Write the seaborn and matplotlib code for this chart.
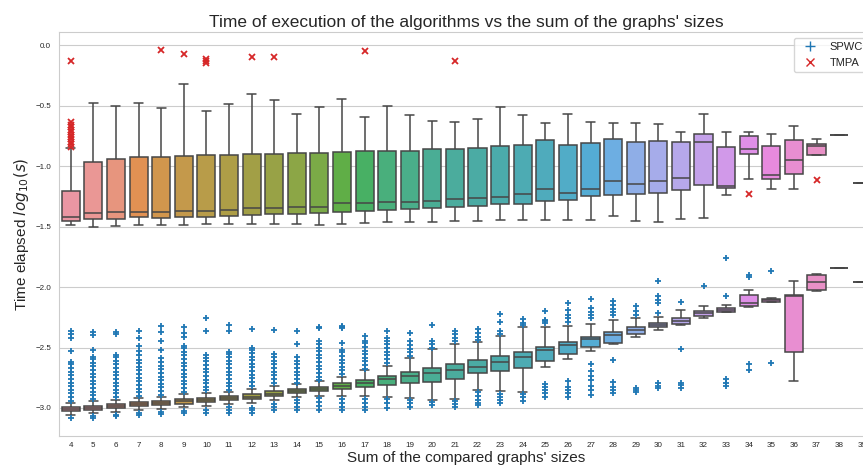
import numpy as np
import pandas as pd
import matplotlib
matplotlib.use("Agg")
import matplotlib.pyplot as plt
from matplotlib.lines import Line2D
import seaborn as sns

# x categories: sum of the compared graphs' sizes
sizes = [str(s) for s in range(4, 40)]

# SPWC box statistics (log10 seconds), sizes 4..39
spwc_lo = [-3.055, -3.045, -3.03, -3.015, -3.005, -2.99, -2.98, -2.965, -2.955, -2.93,
           -2.91, -2.90, -2.90, -2.90, -2.905, -2.915, -2.934, -2.928, -2.848, -2.857,
           -2.865, -2.658, -2.592, -2.529, -2.47, -2.413, -2.355, -2.314, -2.259, -2.207,
           -2.163, -2.121, -2.777, -2.030, -1.843, -1.961]
spwc_q1 = [-3.025, -3.014, -3.003, -2.986, -2.975, -2.964, -2.953, -2.937, -2.928, -2.901,
           -2.879, -2.862, -2.845, -2.829, -2.810, -2.791, -2.782, -2.760, -2.708, -2.691,
           -2.672, -2.612, -2.556, -2.498, -2.465, -2.388, -2.333, -2.309, -2.240, -2.207,
           -2.154, -2.121, -2.537, -2.022, -1.843, -1.961]
spwc_med = [-3.008, -2.997, -2.983, -2.970, -2.959, -2.945, -2.931, -2.920, -2.906, -2.881,
            -2.862, -2.845, -2.818, -2.796, -2.757, -2.735, -2.713, -2.686, -2.661, -2.622,
            -2.576, -2.520, -2.479, -2.432, -2.396, -2.355, -2.314, -2.278, -2.218, -2.188,
            -2.135, -2.110, -2.075, -1.961, -1.843, -1.961]
spwc_q3 = [-2.993, -2.981, -2.967, -2.953, -2.942, -2.925, -2.914, -2.903, -2.884, -2.859,
           -2.845, -2.827, -2.796, -2.769, -2.738, -2.705, -2.672, -2.639, -2.603, -2.570,
           -2.534, -2.493, -2.452, -2.410, -2.374, -2.328, -2.294, -2.253, -2.201, -2.171,
           -2.069, -2.102, -2.066, -1.904, -1.843, -1.961]
spwc_hi = [-2.955, -2.94, -2.93, -2.915, -2.905, -2.885, -2.875, -2.865, -2.84, -2.82,
           -2.80, -2.78, -2.74, -2.685, -2.655, -2.585, -2.51, -2.474, -2.457, -2.408,
           -2.333, -2.333, -2.322, -2.306, -2.273, -2.259, -2.251, -2.19, -2.157, -2.149,
           -2.025, -2.088, -1.95, -1.893, -1.843, -1.961]
spwc_fliers = [
    [-3.08, -2.94, -2.91, -2.88, -2.85, -2.82, -2.79, -2.76, -2.73, -2.70, -2.67, -2.64, -2.62, -2.53, -2.42, -2.39, -2.36],
    [-3.07, -3.08, -2.925, -2.895, -2.865, -2.835, -2.805, -2.775, -2.745, -2.715, -2.685, -2.655, -2.625, -2.595, -2.575, -2.52, -2.40, -2.375],
    [-3.06, -3.07, -2.91, -2.88, -2.85, -2.82, -2.79, -2.76, -2.73, -2.70, -2.67, -2.64, -2.61, -2.58, -2.56, -2.385, -2.375],
    [-3.04, -3.055, -2.90, -2.87, -2.84, -2.81, -2.78, -2.75, -2.72, -2.69, -2.66, -2.63, -2.60, -2.56, -2.53, -2.49, -2.42, -2.36],
    [-3.03, -3.05, -2.89, -2.86, -2.83, -2.80, -2.77, -2.74, -2.71, -2.68, -2.65, -2.62, -2.59, -2.52, -2.45, -2.37, -2.32],
    [-3.025, -3.045, -2.865, -2.835, -2.805, -2.775, -2.745, -2.715, -2.685, -2.655, -2.625, -2.595, -2.565, -2.535, -2.505, -2.49, -2.41, -2.38, -2.33],
    [-3.015, -3.04, -2.855, -2.825, -2.795, -2.765, -2.735, -2.705, -2.675, -2.645, -2.615, -2.585, -2.56, -2.36, -2.26],
    [-2.99, -3.015, -3.04, -2.85, -2.82, -2.79, -2.76, -2.73, -2.70, -2.67, -2.64, -2.61, -2.58, -2.555, -2.535, -2.365, -2.31],
    [-3.0, -3.02, -3.04, -2.815, -2.785, -2.755, -2.725, -2.695, -2.665, -2.635, -2.605, -2.575, -2.545, -2.52, -2.50, -2.35],
    [-2.97, -2.99, -3.015, -2.79, -2.76, -2.73, -2.70, -2.67, -2.64, -2.61, -2.58, -2.55, -2.355],
    [-2.935, -2.96, -2.99, -3.015, -2.79, -2.76, -2.73, -2.70, -2.67, -2.64, -2.61, -2.58, -2.47, -2.36],
    [-2.92, -2.95, -2.98, -3.015, -2.77, -2.74, -2.71, -2.68, -2.65, -2.62, -2.59, -2.56, -2.53, -2.50, -2.47, -2.45, -2.34, -2.33],
    [-2.925, -2.955, -2.99, -3.02, -2.72, -2.69, -2.66, -2.63, -2.60, -2.57, -2.54, -2.52, -2.46, -2.34, -2.33, -2.32],
    [-2.925, -2.955, -2.99, -3.02, -2.675, -2.645, -2.615, -2.585, -2.555, -2.525, -2.495, -2.465, -2.45, -2.405],
    [-2.925, -2.96, -3.0, -2.625, -2.595, -2.565, -2.535, -2.505, -2.475, -2.445, -2.42, -2.36],
    [-2.93, -2.96, -2.99, -2.57, -2.54, -2.51, -2.48, -2.45, -2.38],
    [-2.95, -2.975, -2.50, -2.475, -2.45, -2.31],
    [-2.945, -2.97, -2.99, -2.45, -2.42, -2.39, -2.36],
    [-2.87, -2.90, -2.93, -2.96, -2.975, -2.44, -2.41, -2.38, -2.35],
    [-2.885, -2.91, -2.935, -2.956, -2.385, -2.36, -2.287, -2.223],
    [-2.885, -2.91, -2.94, -2.314, -2.30, -2.267],
    [-2.80, -2.823, -2.85, -2.88, -2.906, -2.30, -2.285, -2.273, -2.196],
    [-2.777, -2.823, -2.85, -2.88, -2.906, -2.287, -2.26, -2.231, -2.19, -2.129],
    [-2.64, -2.694, -2.733, -2.769, -2.818, -2.85, -2.893, -2.259, -2.23, -2.205, -2.176, -2.102],
    [-2.606, -2.782, -2.823, -2.85, -2.873, -2.235, -2.21, -2.18, -2.15, -2.113],
    [-2.837, -2.85, -2.865, -2.235, -2.196, -2.157],
    [-2.79, -2.815, -2.837, -2.218, -2.129, -2.11, -2.074, -1.95],
    [-2.515, -2.79, -2.81, -2.837, -2.121],
    [-1.992],
    [-2.763, -2.79, -2.815, -2.074, -1.763],
    [-2.639, -2.686, -1.92, -1.901],
    [-2.631, -1.868],
    [], [], [], [],
]

# TMPA box statistics, sizes 4..39
tmpa_lo = [-1.488, -1.50, -1.496, -1.488, -1.488, -1.488, -1.479, -1.479, -1.479, -1.479,
           -1.482, -1.488, -1.479, -1.474, -1.463, -1.463, -1.463, -1.457, -1.455, -1.449,
           -1.446, -1.449, -1.444, -1.446, -1.413, -1.455, -1.46, -1.441, -1.432, -1.24,
           -1.107, -1.19, -1.19, -0.906, -0.74, -1.14]
tmpa_q1 = [-1.455, -1.438, -1.438, -1.424, -1.432, -1.419, -1.419, -1.413, -1.405, -1.397,
           -1.397, -1.391, -1.38, -1.369, -1.364, -1.358, -1.35, -1.342, -1.331, -1.317,
           -1.312, -1.289, -1.281, -1.251, -1.24, -1.231, -1.223, -1.198, -1.16, -1.185,
           -0.904, -1.11, -1.063, -0.906, -0.74, -1.14]
tmpa_med = [-1.424, -1.39, -1.383, -1.38, -1.38, -1.375, -1.37, -1.364, -1.35, -1.347,
            -1.342, -1.342, -1.309, -1.309, -1.298, -1.298, -1.29, -1.275, -1.267, -1.259,
            -1.234, -1.187, -1.22, -1.19, -1.127, -1.149, -1.121, -1.099, -0.805, -1.163,
            -0.857, -1.074, -0.953, -0.835, -0.74, -1.14]
tmpa_q3 = [-1.21, -0.97, -0.942, -0.923, -0.923, -0.917, -0.912, -0.909, -0.904, -0.898,
           -0.895, -0.895, -0.884, -0.876, -0.876, -0.876, -0.86, -0.86, -0.849, -0.835,
           -0.829, -0.788, -0.826, -0.807, -0.78, -0.802, -0.791, -0.802, -0.738, -0.843,
           -0.755, -0.837, -0.788, -0.815, -0.74, -1.14]
tmpa_hi = [-0.854, -0.482, -0.507, -0.482, -0.523, -0.32, -0.543, -0.485, -0.407, -0.452,
           -0.568, -0.515, -0.444, -0.595, -0.507, -0.579, -0.628, -0.634, -0.614, -0.515,
           -0.581, -0.645, -0.573, -0.636, -0.647, -0.642, -0.653, -0.719, -0.568, -0.716,
           -0.716, -0.738, -0.672, -0.78, -0.74, -1.14]
tmpa_fliers = [
    [-0.84, -0.82, -0.80, -0.78, -0.76, -0.74, -0.72, -0.70, -0.68, -0.66, -0.64, -0.13],
    [], [], [], [-0.044], [-0.072], [-0.116, -0.13, -0.146], [], [-0.096], [-0.099],
    [], [], [], [-0.05], [], [], [], [-0.13], [], [],
    [], [], [], [], [], [], [], [], [], [],
    [-1.229], [], [], [-1.113], [], [],
]


def box_sample(lo, q1, med, q3, hi, fl):
    # sample whose quartiles / whiskers / outliers reproduce the read statistics
    k = 4 * (len(fl) + 2)
    return [lo] + [q1] * k + [med] * k + [q3] * k + [hi] + list(fl)


rows = []
for algo, stats in [("SPWC", (spwc_lo, spwc_q1, spwc_med, spwc_q3, spwc_hi, spwc_fliers)),
                    ("TMPA", (tmpa_lo, tmpa_q1, tmpa_med, tmpa_q3, tmpa_hi, tmpa_fliers))]:
    for i, s in enumerate(sizes):
        vals = box_sample(*(st[i] for st in stats))
        rows += [(algo, s, v) for v in vals]
df = pd.DataFrame(rows, columns=["algo", "size", "time"])

sns.set_style("whitegrid")
plt.rcParams["font.family"] = ["Liberation Sans", "DejaVu Sans"]

fig = plt.figure(figsize=(8.63, 4.69), dpi=100)
ax = fig.add_axes([0.0689, 0.071, 0.9427, 0.860])

pal = sns.husl_palette(len(sizes), l=.7)
markers = {"SPWC": ("+", "#1f77b4"), "TMPA": ("x", "#d62728")}
for algo, (m, c) in markers.items():
    sns.boxplot(data=df[df.algo == algo], x="size", y="time", hue="size",
                order=sizes, hue_order=sizes, palette=pal, legend=False,
                linewidth=1.1, ax=ax,
                flierprops=dict(marker=m, markeredgecolor=c, markerfacecolor=c,
                                markersize=4.6, markeredgewidth=1.3))

ax.set_ylim(-3.229, 0.105)
ax.set_yticks([-3.0, -2.5, -2.0, -1.5, -1.0, -0.5, 0.0])
ax.tick_params(axis="both", labelsize=5.8, length=0)
ax.tick_params(axis="y", pad=6)
ax.tick_params(axis="x", pad=4.3)

ax.set_title("Time of execution of the algorithms vs the sum of the graphs' sizes",
             fontsize=12.5, pad=4)
ax.set_xlabel("Sum of the compared graphs' sizes", fontsize=11, labelpad=2)
ax.set_ylabel("Time elapsed $log_{10}(s)$", fontsize=11, labelpad=3)

handles = [Line2D([], [], linestyle="none", marker="+", color="#1f77b4", markersize=7, markeredgewidth=1.0),
           Line2D([], [], linestyle="none", marker="x", color="#d62728", markersize=6, markeredgewidth=1.0)]
ax.legend(handles, ["SPWC", "TMPA"], loc="upper right", fontsize=8)

fig.savefig("out.png", dpi=100)
